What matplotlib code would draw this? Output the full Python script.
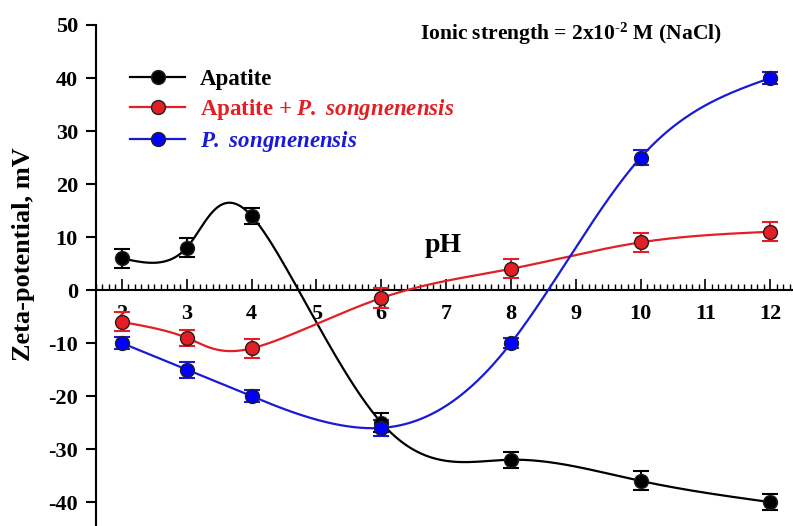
import numpy as np
import matplotlib
matplotlib.use("Agg")
import matplotlib.pyplot as plt
from matplotlib.ticker import MultipleLocator

plt.rcParams['font.family'] = ['Liberation Serif', 'DejaVu Serif']
plt.rcParams['font.weight'] = 'bold'
plt.rcParams['axes.unicode_minus'] = False
plt.rcParams['mathtext.fontset'] = 'custom'
plt.rcParams['mathtext.rm'] = 'Liberation Serif:bold'
plt.rcParams['mathtext.bf'] = 'Liberation Serif:bold'
plt.rcParams['mathtext.it'] = 'Liberation Serif:italic:bold'
plt.rcParams['mathtext.bfit'] = 'Liberation Serif:italic:bold'

ph = [2, 3, 4, 6, 8, 10, 12]
apatite = [6, 8, 14, -25, -32, -36, -40]
apatite_err = [1.8, 1.8, 1.5, 1.8, 1.5, 1.8, 1.5]
mix = [-6, -9, -11, -1.5, 4, 9, 11]
mix_err = [1.8, 1.5, 1.8, 1.8, 1.8, 1.8, 1.8]
bact = [-10, -15, -20, -26, -10, 25, 40]
bact_err = [1.2, 1.5, 1.2, 1.5, 1.0, 1.5, 1.2]


def natural(t, v, ts):
    # natural cubic spline of v(t), evaluated at ts
    k = len(t)
    h = np.diff(t)
    A = np.zeros((k, k))
    b = np.zeros(k)
    A[0, 0] = 1
    A[-1, -1] = 1
    for i in range(1, k - 1):
        A[i, i - 1] = h[i - 1]
        A[i, i] = 2 * (h[i - 1] + h[i])
        A[i, i + 1] = h[i]
        b[i] = 6 * ((v[i + 1] - v[i]) / h[i] - (v[i] - v[i - 1]) / h[i - 1])
    m = np.linalg.solve(A, b)
    idx = np.clip(np.searchsorted(t, ts) - 1, 0, k - 2)
    t0, t1 = t[idx], t[idx + 1]
    hh = t1 - t0
    a0, a1 = t1 - ts, ts - t0
    return (m[idx] * a0 ** 3 + m[idx + 1] * a1 ** 3) / (6 * hh) \
        + (v[idx] / hh - m[idx] * hh / 6) * a0 + (v[idx + 1] / hh - m[idx + 1] * hh / 6) * a1


def smooth(x, y, n=600):
    # parametric spline, one step of t per data point
    x = np.asarray(x, float)
    y = np.asarray(y, float)
    t = np.arange(len(x), dtype=float)
    ts = np.linspace(0, t[-1], n)
    return natural(t, x, ts), natural(t, y, ts)


fig = plt.figure(figsize=(7.93, 5.26), dpi=100)
ax = fig.add_axes([0.121, 0.0, 0.879, 0.9525])

series = [
    (apatite, apatite_err, 'black', 'black', 'Apatite'),
    (mix, mix_err, '#e31e24', '#e31e24', r'Apatite + $\mathbfit{P.}$ $\mathbfit{songnenensis}$'),
    (bact, bact_err, '#1a1ad6', '#0000ff', r'$\mathbfit{P.}$ $\mathbfit{songnenensis}$'),
]

handles = []
for vals, err, lc, fc, label in series:
    xs, ys = smooth(ph, vals)
    ax.plot(xs, ys, color=lc, lw=1.6, zorder=3)
    ax.errorbar(ph, vals, yerr=err, fmt='none', ecolor=lc, elinewidth=1.5,
                capsize=5.5, capthick=1.5, zorder=3)
    ax.plot(ph, vals, 'o', ms=10, mfc=fc, mec='#202020', mew=1, zorder=4)
    h, = ax.plot([], [], '-o', color=lc, lw=1.6, ms=10, mfc=fc, mec='#202020', mew=1)
    handles.append((h, label, lc))

leg = ax.legend([h for h, _, _ in handles], [l for _, l, _ in handles],
                loc='upper left', bbox_to_anchor=(0.049, 0.912), frameon=False,
                borderaxespad=0, borderpad=0,
                fontsize=16.5, handlelength=2.4, handletextpad=0.65, labelspacing=0.3)
for txt, (_, _, c) in zip(leg.get_texts(), handles):
    txt.set_color(c)

ax.set_xlim(1.6, 12.35)
ax.set_ylim(-44.5, 50)

ax.spines['top'].set_visible(False)
ax.spines['right'].set_visible(False)
ax.spines['bottom'].set_position(('data', 0))
ax.spines['left'].set_linewidth(1.5)
ax.spines['bottom'].set_linewidth(1.5)

ax.set_xticks(range(2, 13))
ax.xaxis.set_minor_locator(MultipleLocator(0.1))
ax.tick_params(axis='x', which='major', direction='in', length=8, width=1.2,
               labelsize=16, pad=10)
ax.tick_params(axis='x', which='minor', direction='in', length=4, width=1)
ax.set_yticks(range(-40, 51, 10))
ax.tick_params(axis='y', direction='out', length=7, width=1.5, labelsize=16, pad=6)

ax.set_ylabel('Zeta-potential, mV', fontsize=19, fontweight='bold')
ax.yaxis.set_label_coords(-0.088, 0.543)
ax.text(6.95, 8.5, 'pH', fontsize=20, fontweight='bold', ha='center', va='center')
ax.text(0.898, 0.983, r'Ionic strength = 2x10$^{\text{-2}}$ M (NaCl)',
        transform=ax.transAxes, fontsize=15.5, fontweight='bold', ha='right', va='center')

fig.savefig('out.png', dpi=100)
